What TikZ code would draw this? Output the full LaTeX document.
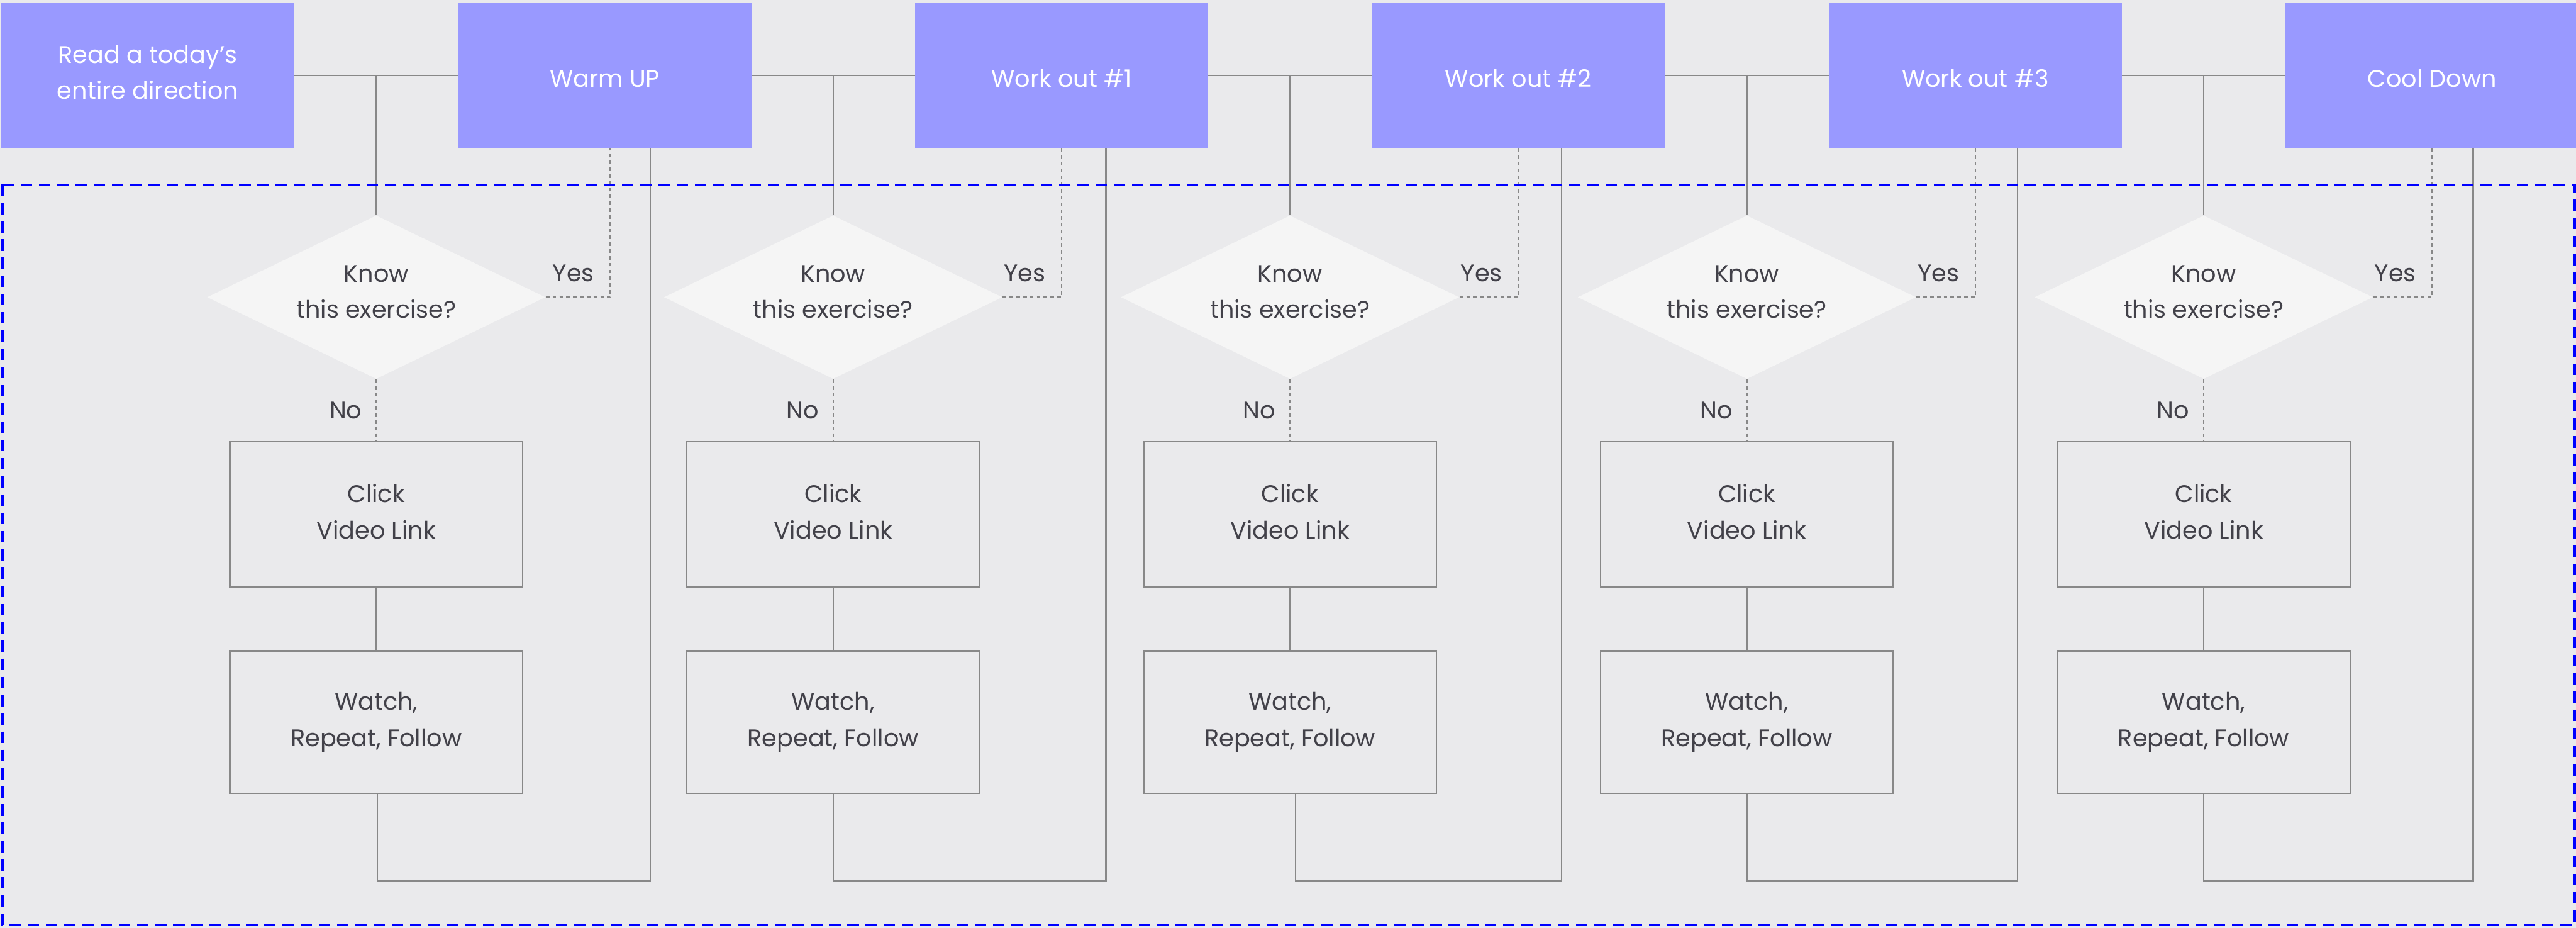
\documentclass[tikz,border=0pt]{standalone}
\usepackage{fontspec}
\setmainfont{Poppins}
\usepackage{tikz}
\usetikzlibrary{shapes.geometric,positioning,calc}
\definecolor{bgfill}{HTML}{EAEAEC}
\definecolor{stagefill}{HTML}{9999FF}
\definecolor{decidefill}{HTML}{F5F5F5}
\definecolor{linegray}{HTML}{888888}
\definecolor{inktext}{HTML}{424149}
\tikzstyle{stage} = [fill=stagefill, rectangle, minimum height=2.53cm, minimum width=5.15cm, inner sep=0pt, outer sep=0pt, align=center, text=white, text height=11.6pt, text depth=0pt]
\tikzstyle{decide} = [fill=decidefill, diamond, minimum width=5.94cm, minimum height=2.87cm, aspect=2.07, inner sep=0pt, align=center, text=inktext, text height=21pt, text depth=0pt]
\tikzstyle{task} = [draw=linegray, line width=0.8pt, rectangle, minimum height=2.55cm, minimum width=5.14cm, align=center, text=inktext, text height=24.2pt, text depth=0pt]
\tikzstyle{link} = [draw=linegray, line width=0.75pt]
\tikzstyle{ask} = [link, dash pattern=on 1.8pt off 1.6pt]
\tikzstyle{answer} = [text=inktext, inner sep=0pt]
\tikzstyle{frame} = [draw=blue, line width=1.2pt, dash pattern=on 5.7pt off 3.4pt]

\begin{document}
\begin{tikzpicture}[node distance=2.87cm, font=\fontsize{12pt}{18pt}\selectfont]
  \useasboundingbox (0,0) rectangle (45.22,-16.28);
  \fill [bgfill] (0,0) rectangle (45.22,-16.28);

  % stages along the top
  \node [stage, text height=23.8pt] (s0) at (2.595,-1.325) {Read a today’s\\entire direction};
  \node [stage, right=of s0] (s1) {Warm UP};
  \node [stage, right=of s1] (s2) {Work out \#1};
  \node [stage, right=of s2] (s3) {Work out \#2};
  \node [stage, right=of s3] (s4) {Work out \#3};
  \node [stage, right=of s4] (s5) {Cool Down};

  % one exercise loop below each stage
  \foreach \i/\j/\ya/\wb/\rb in {0/1/0.1/0.02/0.8, 1/2/0/0/0.78, 2/3/0/0.1/0.76, 3/4/0/0/0.74, 4/5/0/0/0.72} {
    \coordinate (m\j) at ($(s\i.east)!0.5!(s\j.west)$);
    \coordinate (y\j) at ($(s\j.south)+(\ya,0)$);
    \coordinate (r\j) at ($(s\j.south)+(\rb,0)$);
    \node [decide] (d\j) at ($(m\j)+(0,-3.89)$) {Know\\this exercise?};
    \node [task, below=1.08cm of d\j] (c\j) {Click\\Video Link};
    \node [task, below=1.09cm of c\j, minimum height=2.5cm] (w\j) {Watch,\\Repeat, Follow};

    \draw [link] (s\i.east) -- (s\j.west);
    \draw [link] (m\j) -- (d\j.north);
    \draw [ask] (d\j.south) -- node [answer, left=0.24cm] {No} (c\j.north);
    \draw [ask] (d\j.east) -| node [answer, pos=0.5, anchor=south east, xshift=-0.27cm, yshift=0.26cm] {Yes} (y\j);
    \draw [link] (c\j) -- (w\j);
    \draw [link] ($(w\j.south)+(\wb,0)$) -- ++(0,-1.53) -| (r\j);
  }

  \draw [frame] (0.04,-3.24) rectangle (45.20,-16.23);
\end{tikzpicture}
\end{document}
